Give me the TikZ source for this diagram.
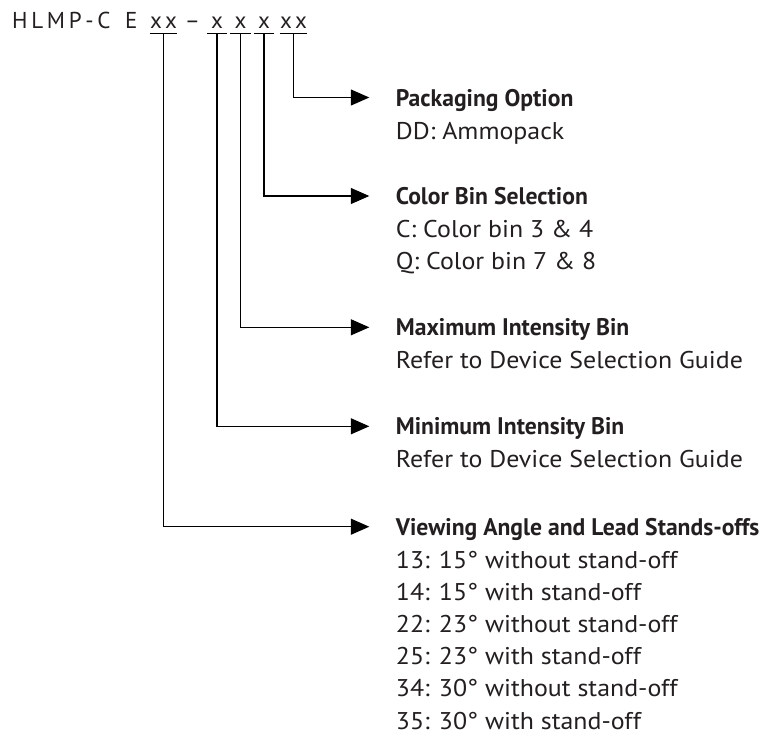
\documentclass[tikz,border=0pt]{standalone}
\usepackage{fontspec}
\setmainfont[FakeStretch=1.07]{PT Sans}
\newfontfamily\hdrfont[LetterSpace=16]{PT Sans}
\newfontfamily\boldcond[FakeStretch=0.985]{PT Sans}
\usetikzlibrary{arrows.meta}
\definecolor{txt}{HTML}{231F20}
\begin{document}
\begin{tikzpicture}[x=1pt,y=-1pt,
  code/.style={font=\hdrfont\fontsize{23}{23}\selectfont, text=txt, inner sep=0pt, anchor=base},
  title/.style={font=\boldcond\bfseries\fontsize{24}{24}\selectfont, text=txt, inner sep=0pt, anchor=base west},
  body/.style={font=\fontsize{24.2}{24.2}\selectfont, text=txt, inner sep=0pt, anchor=base west},
  uline/.style={line width=1.2pt},
  link/.style={line width=1.2pt, -{Triangle[length=18.5pt,width=16pt]}}]
\useasboundingbox (0,0) rectangle (761,734);

% header
\node[code, anchor=base west] (hdr) at (12,28.3) {HLMP-C\hspace{5pt} E};
\node[code, minimum width=25pt] (c1) at (163.5,28.3) {xx};
\node[code] (dash) at (192.5,28.3) {–};
\node[code, minimum width=20pt] (c2) at (217,28.3) {x};
\node[code, minimum width=21pt] (c3) at (240.5,28.3) {x};
\node[code, minimum width=20pt] (c4) at (264,28.3) {x};
\node[code, minimum width=25pt] (c5) at (293.5,28.3) {xx};
\foreach \c in {c1,c2,c3,c4,c5}
  \draw[uline] ([yshift=-5pt]\c.base west) -- ([yshift=-5pt]\c.base east);

% descriptions
\node[title] (t1) at (395.7,106) {Packaging Option};
\node[body] (t1a) at (395.7,139) {DD: Ammopack};

\node[title] (t2) at (395.7,204.5) {Color Bin Selection};
\node[body] (t2a) at (395.7,237.5) {C: Color bin 3 \& 4};
\node[body] (t2b) at (395.7,269.9) {Q: Color bin 7 \& 8};

\node[title] (t3) at (395.7,335.5) {Maximum Intensity Bin};
\node[body] (t3a) at (395.7,368.5) {Refer to Device Selection Guide};

\node[title] (t4) at (395.7,434.5) {Minimum Intensity Bin};
\node[body] (t4a) at (395.7,467.5) {Refer to Device Selection Guide};

\node[title] (t5) at (395.7,535) {Viewing Angle and Lead Stands-offs};
\node[body] (t5a) at (395.7,568.0) {13: 15° without stand-off};
\node[body] (t5b) at (395.7,600.2) {14: 15° with stand-off};
\node[body] (t5c) at (395.7,632.4) {22: 23° without stand-off};
\node[body] (t5d) at (395.7,664.6) {25: 23° with stand-off};
\node[body] (t5e) at (395.7,696.8) {34: 30° without stand-off};
\node[body] (t5f) at (395.7,729.0) {35: 30° with stand-off};

% arrow tips
\coordinate (e1) at (369.3,97.5);
\coordinate (e2) at (369.3,196);
\coordinate (e3) at (369.3,327.3);
\coordinate (e4) at (369.3,426.3);
\coordinate (e5) at (369.3,526.7);

\draw[link] ([yshift=-5pt]c5.base) |- (e1);
\draw[link] ([yshift=-5pt]c4.base) |- (e2);
\draw[link] ([yshift=-5pt]c3.base) |- (e3);
\draw[link] ([yshift=-5pt]c2.base) |- (e4);
\draw[link] ([yshift=-5pt]c1.base) |- (e5);
\end{tikzpicture}
\end{document}
